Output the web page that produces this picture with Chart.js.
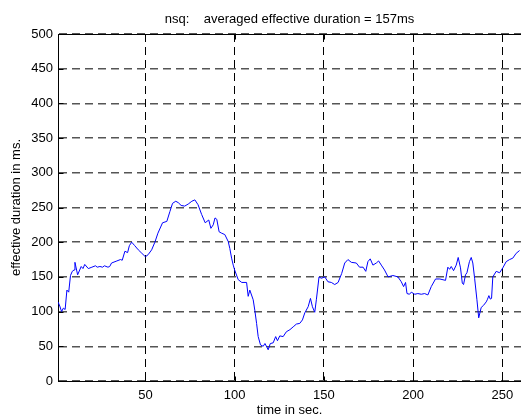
<!DOCTYPE html>
<html>
<head>
<meta charset="utf-8">
<script src="https://cdn.jsdelivr.net/npm/chart.js@4.4.0/dist/chart.umd.min.js"></script>
<style>
    html, body { margin: 0; padding: 0; background: #fff; overflow: hidden; }
</style>
</head>
<body>
<canvas id="grafico" width="521" height="417"></canvas>
<script>
// tempo (s) e duração efetiva (ms)
const tempos = [1, 2, 3, 4, 5, 6, 7, 8, 9, 10, 10.5, 12, 14, 15, 16, 18, 20, 22, 23, 24.5,
    26, 27, 29, 30, 31, 34, 36, 37, 38.5, 40, 41, 42.3, 44, 46, 48, 50, 51.5, 53.5, 55.3, 57,
    59.6, 62, 63.7, 65.2, 67, 68.4, 70, 72, 74, 76, 77.7, 79.5, 81.5, 83.5, 85.5, 86.7, 88, 89, 90, 91.3,
    92.7, 94.5, 96.4, 97.3, 98.3, 99.2, 100, 102, 104, 106.7, 107.6, 108.5, 110.4, 111.3, 112.3, 113.2, 114.5, 116, 117, 118.8,
    120, 121.6, 123, 124, 125.3, 127.2, 129, 131, 132.8, 134.6, 136.5, 138, 139.3, 141.2, 142.5, 143.6, 144.9, 145.8, 147.3, 148.6,
    150.5, 152.3, 154.2, 156.1, 158, 160, 161.7, 163.5, 165.4, 168.2, 170, 172, 173.5, 174.7, 176, 177.5, 179.4, 180.7, 182.2, 184,
    186, 188.7, 191.5, 193.4, 194.7, 195.8, 196.6, 198, 199, 201, 202.7, 204.6, 206.5, 208.3, 210.2, 212.6, 215, 218.2, 219.5, 220.5,
    221.4, 222.7, 224.2, 225.3, 226.6, 227.6, 228.3, 229.4, 230.2, 231.6, 232.6, 233.5, 234.5, 235.8, 236.8, 238.2, 239.5, 241, 241.6, 242.5,
    243.3, 244, 244.7, 246.6, 248.5, 250.3, 252.2, 254.1, 255.9, 257.8, 259.7];
const duracoes = [114, 108, 100, 105, 103, 131, 128, 152, 158, 160, 171, 153, 165, 162, 168, 162, 164, 166, 164, 165,
    164, 166, 164, 165, 170, 173, 175, 174, 187, 185, 195, 200, 195, 189, 184, 179, 182, 189, 200, 213,
    228, 230, 244, 256, 259, 257, 253, 252, 255, 259, 261, 254, 240, 228, 232, 220, 225, 235, 233, 215,
    213, 211, 201, 191, 177, 167, 160, 146, 142, 142, 122, 131, 117, 102, 83, 64, 52, 50, 54, 45,
    54, 55, 64, 58, 65, 64, 71, 74, 78, 82, 83, 88, 98, 107, 119, 107, 99, 117, 150, 148,
    150, 143, 142, 139, 142, 155, 170, 175, 171, 170, 164, 164, 158, 172, 176, 167, 170, 173, 167, 160,
    150, 152, 150, 143, 136, 142, 126, 125, 128, 125, 126, 125, 126, 124, 136, 147, 147, 145, 164, 161,
    165, 159, 167, 178, 163, 141, 139, 153, 156, 172, 178, 170, 148, 117, 91, 106, 109, 114, 117, 123,
    118, 119, 150, 158, 156, 163, 172, 175, 177, 184, 188];
const ticksX = [50, 100, 150, 200, 250];
const ticksY = [0, 50, 100, 150, 200, 250, 300, 350, 400, 450, 500];

const fonte = "'Liberation Sans', Arial, Helvetica, sans-serif";

// moldura no topo e marcas de escala para dentro (estilo MATLAB)
const moldura = {
    id: 'moldura',
    afterDraw(chart) {
        const { ctx, chartArea: a, scales } = chart;
        ctx.save();
        ctx.strokeStyle = '#000';
        ctx.lineWidth = 1;
        ctx.beginPath();
        const top = Math.round(a.top) + 0.5;
        const bottom = Math.round(a.bottom) + 0.5;
        const left = Math.round(a.left) + 0.5;
        ctx.moveTo(a.left, top);
        ctx.lineTo(a.right, top);
        ticksX.forEach(v => {
            const x = Math.round(scales.x.getPixelForValue(v)) + 0.5;
            ctx.moveTo(x, bottom); ctx.lineTo(x, bottom - 5);
            ctx.moveTo(x, top); ctx.lineTo(x, top + 5);
        });
        ticksY.forEach(v => {
            const y = Math.round(scales.y.getPixelForValue(v)) + 0.5;
            ctx.moveTo(left, y); ctx.lineTo(left + 5, y);
        });
        ctx.stroke();
        ctx.restore();
    }
};

const ctx = document.getElementById('grafico').getContext('2d');
new Chart(ctx, {
    type: 'line',
    data: {
        datasets: [{
            data: tempos.map((t, i) => ({ x: t, y: duracoes[i] })),
            borderColor: '#0000ff',
            borderWidth: 1,
            pointRadius: 0,
            tension: 0,
            fill: false
        }]
    },
    options: {
        responsive: false,
        animation: false,
        devicePixelRatio: 1,
        layout: { padding: 0 },
        plugins: {
            legend: { display: false },
            tooltip: { enabled: false },
            title: {
                display: true,
                text: 'nsq:    averaged effective duration = 157ms',
                color: '#000',
                fullSize: false,
                font: { family: fonte, size: 13, weight: 'normal', lineHeight: '16px' },
                padding: { top: 11, bottom: 7 }
            }
        },
        scales: {
            x: {
                type: 'linear',
                min: 1,
                max: 260.5,
                afterBuildTicks: s => { s.ticks = ticksX.map(v => ({ value: v })); },
                afterFit: s => { s.height = 36; },
                grid: { color: '#000', lineWidth: 1, drawTicks: false },
                border: { display: true, color: '#000', width: 1, dash: [8, 5] },
                ticks: { color: '#000', padding: 7, font: { family: fonte, size: 13 }, maxRotation: 0 },
                title: {
                    display: true,
                    text: 'time in sec.',
                    color: '#000',
                    font: { family: fonte, size: 13, lineHeight: 1 },
                    padding: { top: 0, bottom: 0 }
                }
            },
            y: {
                min: 0,
                max: 500,
                afterBuildTicks: s => { s.ticks = ticksY.map(v => ({ value: v })); },
                afterFit: s => { s.width = 58; },
                grid: { color: '#555', lineWidth: 1.5, drawTicks: false },
                border: { display: true, color: '#000', width: 1, dash: [8, 5] },
                ticks: { color: '#000', padding: 5, font: { family: fonte, size: 13 } },
                title: {
                    display: true,
                    text: 'effective duration in ms.',
                    color: '#000',
                    font: { family: fonte, size: 13, lineHeight: 1.2 },
                    padding: { top: 9, bottom: 0 }
                }
            }
        }
    },
    plugins: [moldura]
});
</script>
</body>
</html>
